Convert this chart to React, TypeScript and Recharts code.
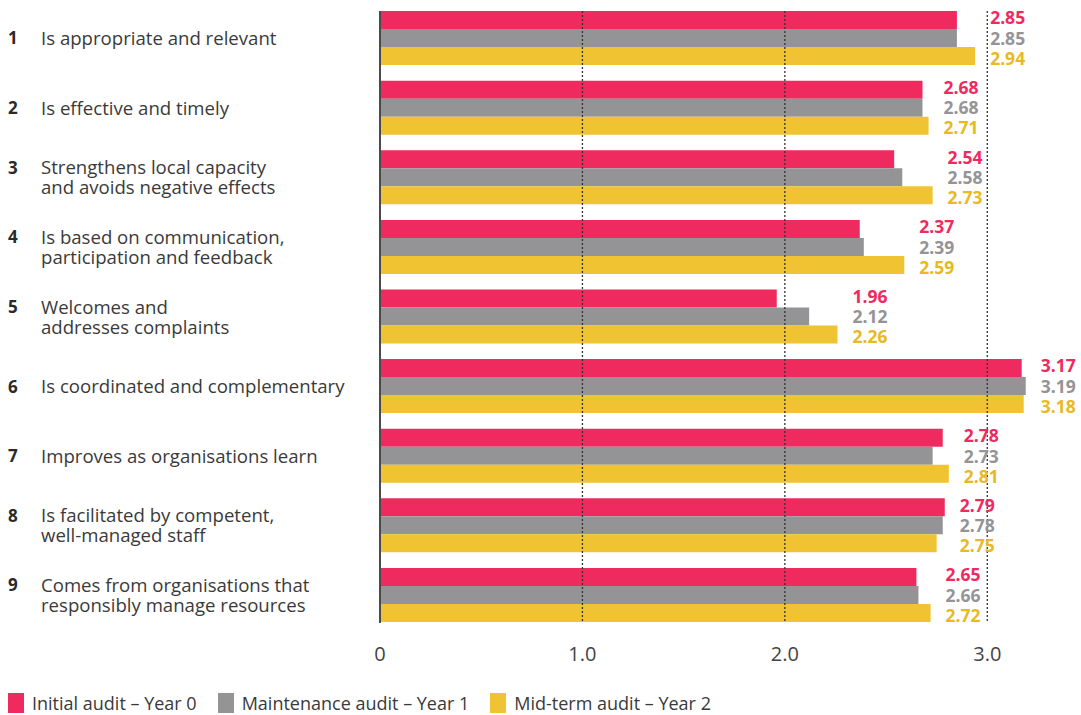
import { BarChart, Bar, XAxis, YAxis, ReferenceLine, LabelList } from 'recharts';

const categories = [
  'Is appropriate and relevant',
  'Is effective and timely',
  'Strengthens local capacity\nand avoids negative effects',
  'Is based on communication,\nparticipation and feedback',
  'Welcomes and\naddresses complaints',
  'Is coordinated and complementary',
  'Improves as organisations learn',
  'Is facilitated by competent,\nwell-managed staff',
  'Comes from organisations that\nresponsibly manage resources',
];
const initialAudit = [2.85, 2.68, 2.54, 2.37, 1.96, 3.17, 2.78, 2.79, 2.65];
const maintenanceAudit = [2.85, 2.68, 2.58, 2.39, 2.12, 3.19, 2.73, 2.78, 2.66];
const midtermAudit = [2.94, 2.71, 2.73, 2.59, 2.26, 3.18, 2.81, 2.75, 2.72];
const xTicks = [0, 1, 2, 3];
const xTickLabels = ['0', '1.0', '2.0', '3.0'];

const PINK = '#ee2a5e';
const GREY = '#949497';
const YELLOW = '#efc332';
const TEXT = '#3a3a3a';
const FONT = '"Open Sans", sans-serif';
const GAP = 0.105;

const data = categories.map((label, i) => ({
  id: String(i + 1),
  label,
  initial: initialAudit[i],
  maintenance: maintenanceAudit[i],
  midterm: midtermAudit[i],
}));

const groupMax = data.map((d) => Math.max(d.initial, d.maintenance, d.midterm));

function CategoryTick({ y, payload }: any) {
  const i = Number(payload.value) - 1;
  const lines = categories[i].split('\n');
  const lh = 20;
  const start = y - ((lines.length - 1) * lh) / 2;
  return (
    <g>
      <text x={8} y={start} dy="0.35em" fontFamily={FONT} fontSize={17} fontWeight={700} fill="#2a2a2a">
        {payload.value}
      </text>
      {lines.map((l, k) => (
        <text key={k} x={41} y={start + k * lh} dy="0.35em" fontFamily={FONT} fontSize={18.6} fill={TEXT}>
          {l}
        </text>
      ))}
    </g>
  );
}

function ValueTick({ x, y, payload }: any) {
  const idx = xTicks.indexOf(payload.value);
  return (
    <text x={x} y={y + 25} textAnchor="middle" fontFamily={FONT} fontSize={20} fill="#444">
      {xTickLabels[idx]}
    </text>
  );
}

function makeLabel(color: string, shift: number) {
  return (props: any) => {
    const { x, y, width, height, value, index } = props;
    const endMax = x + (width * groupMax[index]) / value;
    return (
      <text
        x={endMax + 15}
        y={y + height / 2 + shift}
        dy="0.36em"
        fontFamily={FONT}
        fontSize={17.5}
        fontWeight={700}
        fill={color}
      >
        {value.toFixed(2)}
      </text>
    );
  };
}

function insetLine(dashed: boolean) {
  return (props: any) => {
    const top = Math.min(props.y1, props.y2);
    const bottom = Math.max(props.y1, props.y2);
    const inset = ((bottom - top) / categories.length) * GAP;
    return (
      <line
        x1={props.x1}
        x2={props.x2}
        y1={top + inset}
        y2={bottom - inset}
        stroke={dashed ? '#333' : '#4a4a4a'}
        strokeWidth={dashed ? 1.3 : 2}
        strokeDasharray={dashed ? '2 2' : undefined}
      />
    );
  };
}

const legendItems = [
  { name: 'Initial audit – Year 0', color: PINK },
  { name: 'Maintenance audit – Year 1', color: GREY },
  { name: 'Mid-term audit – Year 2', color: YELLOW },
];

export default function App() {
  return (
    <div style={{ position: 'absolute', left: 0, top: 0, width: 1081, height: 715, background: '#fff' }}>
      <BarChart
        width={1081}
        height={680}
        data={data}
        layout="vertical"
        margin={{ top: 3.7, right: 0, bottom: 0, left: 0 }}
        barGap={0}
        barCategoryGap={`${GAP * 100}%`}
      >
        <XAxis
          type="number"
          domain={[0, 3.463]}
          ticks={xTicks}
          axisLine={false}
          tickLine={false}
          tickMargin={0}
          height={49.7}
          tick={<ValueTick />}
        />
        <YAxis
          type="category"
          dataKey="id"
          width={380}
          axisLine={false}
          tickLine={false}
          tick={<CategoryTick />}
        />
        <Bar dataKey="initial" fill={PINK} isAnimationActive={false}>
          <LabelList dataKey="initial" content={makeLabel(PINK, -2)} />
        </Bar>
        <Bar dataKey="maintenance" fill={GREY} isAnimationActive={false}>
          <LabelList dataKey="maintenance" content={makeLabel(GREY, 0.5)} />
        </Bar>
        <Bar dataKey="midterm" fill={YELLOW} isAnimationActive={false}>
          <LabelList dataKey="midterm" content={makeLabel('#e9b923', 2.5)} />
        </Bar>
        <ReferenceLine x={0} shape={insetLine(false)} />
        <ReferenceLine x={1} shape={insetLine(true)} />
        <ReferenceLine x={2} shape={insetLine(true)} />
        <ReferenceLine x={3} shape={insetLine(true)} />
      </BarChart>
      <div
        style={{
          position: 'absolute',
          left: 8,
          top: 693,
          display: 'flex',
          fontFamily: FONT,
          fontSize: 18,
          color: TEXT,
          lineHeight: '20px',
        }}
      >
        {legendItems.map((it, i) => (
          <div key={i} style={{ display: 'flex', alignItems: 'center', marginRight: 21 }}>
            <span style={{ display: 'inline-block', width: 16, height: 20, background: it.color, marginRight: 8 }} />
            <span>{it.name}</span>
          </div>
        ))}
      </div>
    </div>
  );
}
